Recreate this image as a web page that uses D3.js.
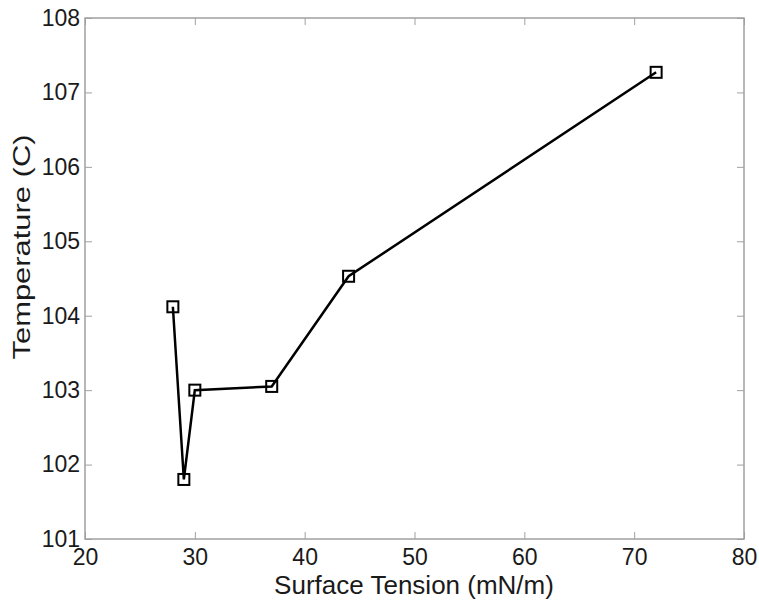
<!DOCTYPE html>
<html><head><meta charset="utf-8">
<script src="https://cdn.jsdelivr.net/npm/d3@7"></script>
<style>body{margin:0;background:#fff}svg{display:block}text{font-family:"Liberation Sans",Arial,Helvetica,sans-serif}</style>
</head><body><svg id="c" width="759" height="601"></svg>
<script>
const xValues = [28, 29, 30, 37, 44, 72];
const yValues = [104.12, 101.8, 103.0, 103.05, 104.53, 107.27];
const xTicks = [20, 30, 40, 50, 60, 70, 80];
const yTicks = [101, 102, 103, 104, 105, 106, 107, 108];
const xLabel = "Surface Tension (mN/m)";
const yLabel = "Temperature (C)";

const svg = d3.select("#c");
const L = 85, R = 744, T = 18, B = 539;
const x = d3.scaleLinear().domain([20, 80]).range([L, R]);
const y = d3.scaleLinear().domain([101, 108]).range([B, T]);
const axisCol = "#a0a0a0", fs = 23, lfs = 26;

svg.append("rect").attr("x", L).attr("y", T).attr("width", R - L).attr("height", B - T)
  .attr("fill", "none").attr("stroke", axisCol).attr("stroke-width", 1.5);

const gx = svg.append("g").attr("transform", `translate(0,${B})`)
  .call(d3.axisBottom(x).tickValues(xTicks).tickSize(-7).tickPadding(10).tickFormat(d3.format("d")));
const gxt = svg.append("g").attr("transform", `translate(0,${T})`)
  .call(d3.axisTop(x).tickValues(xTicks).tickSize(-7).tickFormat(""));
const gy = svg.append("g").attr("transform", `translate(${L},0)`)
  .call(d3.axisLeft(y).tickValues(yTicks).tickSize(-7).tickPadding(5).tickFormat(d3.format("d")));
const gyr = svg.append("g").attr("transform", `translate(${R},0)`)
  .call(d3.axisRight(y).tickValues(yTicks).tickSize(-7).tickFormat(""));
[gx, gxt, gy, gyr].forEach(g => {
  g.select(".domain").remove();
  g.selectAll(".tick line").attr("stroke", axisCol).attr("stroke-width", 1);
  g.selectAll(".tick text").attr("fill", "#1a1a1a").style("font-size", fs + "px");
});
gx.selectAll(".tick text").attr("dy", "0.71em");

svg.append("text").attr("x", 414).attr("y", 594).attr("text-anchor", "middle")
  .style("font-size", lfs + "px").attr("fill", "#1a1a1a").text(xLabel);
svg.append("text").attr("transform", `translate(30,247) rotate(-90)`).attr("text-anchor", "middle")
  .attr("textLength", 225).attr("lengthAdjust", "spacingAndGlyphs")
  .style("font-size", "24px").attr("fill", "#1a1a1a").text(yLabel);

const pts = xValues.map((v, i) => [v, yValues[i]]);
svg.append("path").datum(pts).attr("fill", "none").attr("stroke", "#000").attr("stroke-width", 2.5)
  .attr("d", d3.line().x(d => x(d[0])).y(d => y(d[1])));
const s = 11;
svg.selectAll("rect.m").data(pts).enter().append("rect").attr("class", "m")
  .attr("x", d => x(d[0]) - s / 2).attr("y", d => y(d[1]) - s / 2).attr("width", s).attr("height", s)
  .attr("fill", "none").attr("stroke", "#000").attr("stroke-width", 2);
</script></body></html>
